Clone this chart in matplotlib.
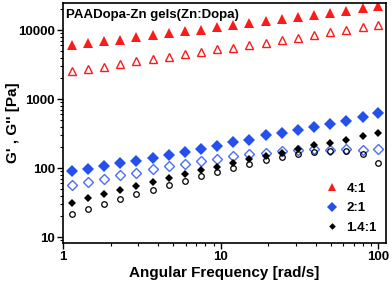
import matplotlib
matplotlib.use("Agg")
import matplotlib.pyplot as plt
from matplotlib.ticker import FixedLocator, FixedFormatter, LogLocator, NullFormatter

plt.rcParams['font.family'] = ['Liberation Sans', 'DejaVu Sans']
plt.rcParams['font.weight'] = 'bold'

# angular frequency [rad/s]
freq = [1.14, 1.44, 1.82, 2.30, 2.92, 3.70, 4.68, 5.93, 7.51, 9.51,
        12.0, 15.2, 19.3, 24.4, 30.9, 39.1, 49.5, 62.7, 79.4, 100]

# 4:1
g1_store = [6190, 6530, 6920, 7320, 7910, 8550, 9140, 9670, 10100, 10940,
            11940, 12770, 13520, 14450, 15620, 16700, 17860, 19100, 21100, 22600]
g1_loss = [2550, 2730, 2960, 3270, 3570, 3780, 4090, 4520, 4830, 5290,
           5600, 6110, 6620, 7230, 7830, 8550, 9260, 10100, 10940, 11940]

# 2:1
g2_store = [90.4, 95.7, 106, 117, 128, 140, 156, 171, 189, 209,
            239, 256, 299, 320, 354, 399, 437, 483, 558, 632]
g2_loss = [57.1, 62, 69.2, 78.3, 85.5, 96.7, 107, 116, 126, 138,
           150, 158, 167, 177, 183, 187, 186, 188, 186, 187]

# 1.4:1
g3_store = [31.3, 36.6, 42.3, 48.3, 56, 64, 73.2, 82.6, 93.5, 104,
            119, 134, 148, 167, 189, 214, 231, 258, 295, 327]
g3_loss = [21.9, 25.9, 30.6, 35.7, 41.8, 48.3, 57.1, 66.2, 76.4, 88.3,
           102, 116, 130, 146, 160, 171, 180, 177, 160, 119]

red = '#ff1a1a'
blue = '#2450f0'
light_blue = '#4a6ff5'

fig = plt.figure(figsize=(3.92, 2.82), dpi=100)
ax = fig.add_axes([0.161, 0.138, 0.824, 0.851])

ax.plot(freq, g1_store, '^', color=red, ms=7, mew=0, label='4:1')
ax.plot(freq, g1_loss, '^', mfc='none', mec=red, ms=6, mew=1.0)
ax.plot(freq, g2_store, 'D', color=blue, ms=6, mew=0, label='2:1')
ax.plot(freq, g2_loss, 'D', mfc='none', mec=light_blue, ms=5.5, mew=1.0)
ax.plot(freq, g3_store, 'D', color='black', ms=4.2, mew=0, label='1.4:1')
ax.plot(freq, g3_loss, 'o', mfc='none', mec='black', ms=4, mew=0.9)

ax.set_xscale('log')
ax.set_yscale('log')
ax.set_xlim(1, 112)
ax.set_ylim(8.2, 24700)

ax.xaxis.set_major_locator(FixedLocator([1, 10, 100]))
ax.xaxis.set_major_formatter(FixedFormatter(['1', '10', '100']))
ax.xaxis.set_minor_locator(LogLocator(subs=range(2, 10)))
ax.xaxis.set_minor_formatter(NullFormatter())
ax.yaxis.set_major_locator(FixedLocator([10, 100, 1000, 10000]))
ax.yaxis.set_major_formatter(FixedFormatter(['10', '100', '1000', '10000']))
ax.yaxis.set_minor_locator(LogLocator(subs=range(2, 10)))
ax.yaxis.set_minor_formatter(NullFormatter())

ax.tick_params(which='major', direction='out', length=4, width=1, labelsize=9.5, pad=2)
ax.tick_params(which='minor', direction='out', length=2, width=0.8)
for s in ax.spines.values():
    s.set_linewidth(1.2)

ax.set_xlabel('Angular Frequency [rad/s]', fontsize=11, fontweight='bold', labelpad=2)
ax.set_ylabel("G' , G'' [Pa]", fontsize=11, fontweight='bold')
ax.yaxis.set_label_coords(-0.135, 0.5)

ax.text(0.01, 0.975, 'PAADopa-Zn gels(Zn:Dopa)', transform=ax.transAxes,
        fontsize=9.5, fontweight='bold', va='top', ha='left')

leg = ax.legend(loc='lower right', frameon=False, fontsize=9.5, handlelength=1,
                handletextpad=0.6, labelspacing=0.55, borderaxespad=0.3,
                markerscale=0.8)
for t in leg.get_texts():
    t.set_fontweight('bold')

fig.savefig('out.png', dpi=100)
